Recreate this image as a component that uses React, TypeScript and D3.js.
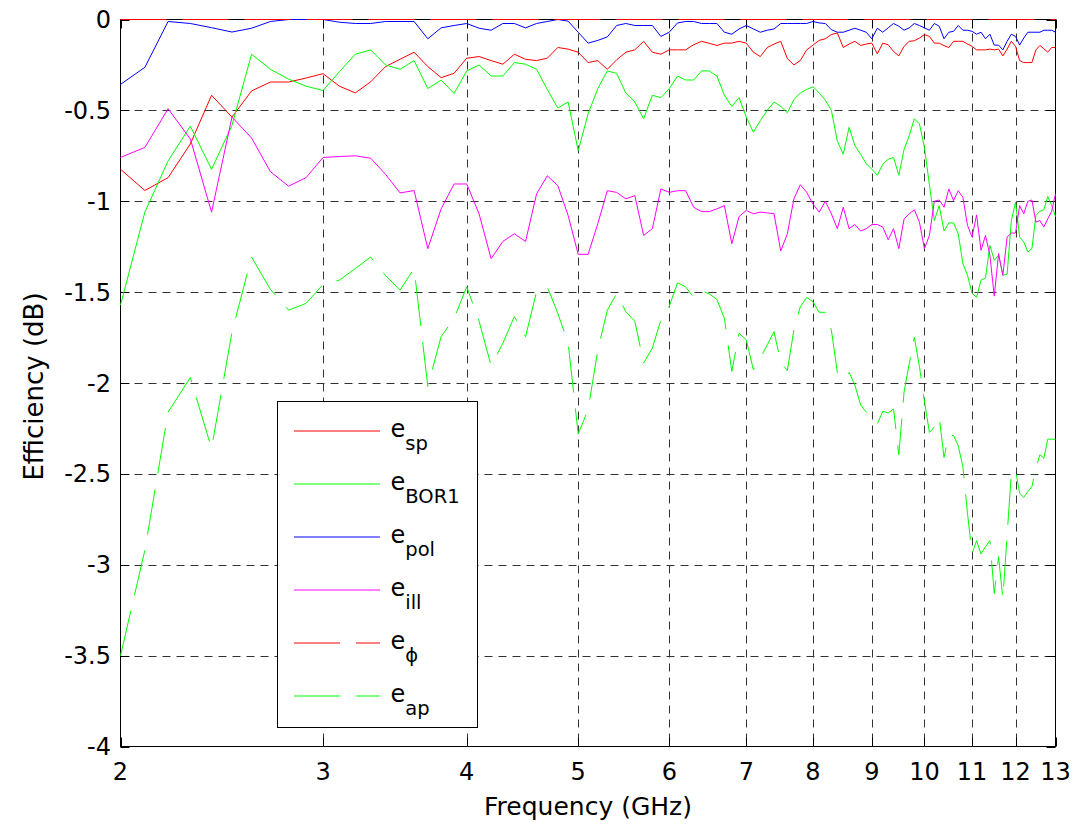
import React, { useEffect, useRef } from 'react';
import * as d3 from 'd3';

// Frequency (GHz)
const freq = [
  2.0, 2.1, 2.2, 2.3, 2.4, 2.5, 2.6, 2.7, 2.8, 2.9,
  3.0, 3.1, 3.2, 3.3, 3.4, 3.5, 3.6, 3.7, 3.8, 3.9,
  4.0, 4.1, 4.2, 4.3, 4.4, 4.5, 4.6, 4.7, 4.8, 4.9,
  5.0, 5.1, 5.2, 5.3, 5.4, 5.5, 5.6, 5.7, 5.8, 5.9,
  6.0, 6.1, 6.2, 6.3, 6.4, 6.5, 6.6, 6.7, 6.8, 6.9,
  7.0, 7.1, 7.2, 7.3, 7.4, 7.5, 7.6, 7.7, 7.8, 7.9,
  8.0, 8.1, 8.2, 8.3, 8.4, 8.5, 8.6, 8.7, 8.8, 8.9,
  9.0, 9.1, 9.2, 9.3, 9.4, 9.5, 9.6, 9.7, 9.8, 9.9,
  10.0, 10.1, 10.2, 10.3, 10.4, 10.5, 10.6, 10.7, 10.8, 10.9,
  11.0, 11.1, 11.2, 11.3, 11.4, 11.5, 11.6, 11.7, 11.8, 11.9,
  12.0, 12.1, 12.2, 12.3, 12.4, 12.5, 12.6, 12.7, 12.8, 12.9,
  13.0,
];

const eSp = [
  -0.824, -0.941, -0.870, -0.685, -0.417, -0.537, -0.393, -0.344, -0.344, -0.322,
  -0.298, -0.367, -0.404, -0.343, -0.259, -0.219, -0.180, -0.259, -0.320, -0.296,
  -0.213, -0.204, -0.226, -0.246, -0.191, -0.219, -0.226, -0.213, -0.154, -0.163,
  -0.180, -0.237, -0.226, -0.274, -0.222, -0.180, -0.167, -0.120, -0.180, -0.191,
  -0.167, -0.167, -0.167, -0.139, -0.120, -0.131, -0.143, -0.130, -0.130, -0.120,
  -0.130, -0.180, -0.204, -0.154, -0.135, -0.120, -0.215, -0.250, -0.226, -0.167,
  -0.141, -0.115, -0.106, -0.083, -0.074, -0.154, -0.135, -0.120, -0.143, -0.135,
  -0.130, -0.189, -0.130, -0.139, -0.176, -0.200, -0.148, -0.120, -0.117, -0.102,
  -0.083, -0.093, -0.130, -0.130, -0.144, -0.154, -0.120, -0.120, -0.120, -0.135,
  -0.148, -0.167, -0.167, -0.167, -0.163, -0.167, -0.163, -0.200, -0.163, -0.120,
  -0.148, -0.226, -0.237, -0.237, -0.237, -0.167, -0.143, -0.161, -0.180, -0.154,
  -0.154,
];

const eBor1 = [
  -1.571, -1.060, -0.778, -0.587, -0.824, -0.583, -0.191, -0.274, -0.328, -0.367,
  -0.391, -0.287, -0.191, -0.167, -0.250, -0.274, -0.226, -0.380, -0.333, -0.407,
  -0.283, -0.250, -0.311, -0.311, -0.237, -0.246, -0.274, -0.385, -0.487, -0.454,
  -0.722, -0.519, -0.380, -0.283, -0.296, -0.404, -0.454, -0.546, -0.417, -0.430,
  -0.380, -0.311, -0.333, -0.333, -0.283, -0.283, -0.311, -0.417, -0.478, -0.430,
  -0.537, -0.620, -0.556, -0.500, -0.454, -0.478, -0.513, -0.441, -0.404, -0.385,
  -0.370, -0.404, -0.444, -0.500, -0.670, -0.741, -0.593, -0.694, -0.741, -0.793,
  -0.824, -0.857, -0.796, -0.769, -0.759, -0.857, -0.715, -0.639, -0.546, -0.574,
  -0.704, -0.910, -1.106, -1.024, -1.164, -1.119, -1.119, -1.179, -1.343, -1.407,
  -1.507, -1.529, -1.434, -1.422, -1.243, -1.325, -1.297, -1.407, -1.401, -1.106,
  -1.005, -1.197, -1.224, -1.279, -1.261, -1.078, -1.055, -1.047, -0.974, -1.024,
  -1.084,
];

const ePol = [
  -0.357, -0.263, -0.011, -0.022, -0.045, -0.069, -0.048, -0.011, 0.0, 0.0,
  0.0, -0.015, -0.022, -0.022, -0.011, -0.011, -0.011, -0.106, -0.046, -0.033,
  -0.022, -0.048, -0.059, -0.022, -0.022, -0.046, -0.022, -0.011, 0.0, -0.009,
  -0.070, -0.130, -0.115, -0.096, -0.033, -0.022, -0.033, -0.033, -0.033, -0.093,
  -0.070, -0.019, -0.011, -0.011, -0.022, -0.022, -0.022, -0.070, -0.081, -0.052,
  -0.033, -0.052, -0.070, -0.059, -0.052, -0.022, -0.022, -0.022, -0.022, -0.022,
  -0.011, -0.019, -0.022, -0.056, -0.070, -0.070, -0.059, -0.048, -0.059, -0.070,
  -0.106, -0.048, -0.070, -0.046, -0.022, -0.037, -0.059, -0.046, -0.022, -0.033,
  -0.046, -0.059, -0.022, -0.037, -0.106, -0.070, -0.065, -0.033, -0.059, -0.059,
  -0.065, -0.081, -0.070, -0.106, -0.081, -0.141, -0.141, -0.167, -0.120, -0.081,
  -0.093, -0.141, -0.102, -0.070, -0.070, -0.070, -0.070, -0.059, -0.059, -0.059,
  -0.070,
];

const eIll = [
  -0.759, -0.704, -0.491, -0.657, -1.060, -0.537, -0.652, -0.837, -0.917, -0.870,
  -0.759, -0.754, -0.750, -0.763, -0.852, -0.954, -0.941, -1.261, -1.042, -0.905,
  -0.905, -1.069, -1.316, -1.221, -1.179, -1.221, -0.960, -0.860, -0.914, -1.078,
  -1.292, -1.292, -1.124, -0.942, -0.951, -0.987, -0.969, -1.188, -1.151, -0.932,
  -0.951, -0.942, -0.942, -1.033, -1.057, -1.057, -1.042, -1.024, -1.234, -1.084,
  -1.051, -1.069, -1.060, -1.064, -1.069, -1.274, -1.179, -0.987, -0.909, -0.951,
  -1.015, -1.060, -1.000, -1.069, -1.151, -1.033, -1.151, -1.128, -1.164, -1.151,
  -1.128, -1.128, -1.142, -1.212, -1.151, -1.261, -1.097, -1.069, -1.047, -1.115,
  -1.261, -1.188, -1.000, -0.993, -1.033, -0.932, -0.996, -0.942, -0.978, -1.133,
  -1.197, -1.075, -1.270, -1.188, -1.297, -1.522, -1.288, -1.407, -1.197, -1.175,
  -1.175, -1.024, -1.069, -1.000, -0.993, -1.115, -1.106, -1.142, -1.097, -1.055,
  -0.960,
];

const ePhi = [
  0, 0, 0, 0, 0, 0, 0, 0, 0, 0,
  0, 0, 0, 0, 0, 0, 0, 0, 0, 0,
  0, 0, 0, 0, 0, 0, 0, 0, 0, 0,
  0, 0, 0, 0, 0, 0, 0, 0, 0, 0,
  0, 0, 0, 0, 0, 0, 0, 0, 0, 0,
  0, 0, 0, 0, 0, 0, 0, 0, 0, 0,
  0, 0, 0, 0, 0, 0, 0, 0, 0, 0,
  0, 0, 0, 0, 0, 0, 0, 0, 0, 0,
  0, 0, 0, 0, 0, 0, 0, 0, 0, 0,
  0, 0, 0, 0, 0, 0, 0, 0, 0, 0,
  0, 0, 0, 0, 0, 0, 0, 0, 0, 0,
  0,
];

const eAp = [
  -3.500, -2.920, -2.160, -1.970, -2.360, -1.720, -1.307, -1.485, -1.599, -1.562,
  -1.458, -1.434, -1.370, -1.307, -1.409, -1.489, -1.370, -2.018, -1.745, -1.644,
  -1.471, -1.660, -1.905, -1.781, -1.635, -1.745, -1.498, -1.471, -1.617, -1.780,
  -2.280, -2.146, -1.820, -1.600, -1.507, -1.608, -1.660, -1.890, -1.808, -1.653,
  -1.577, -1.449, -1.471, -1.529, -1.493, -1.510, -1.540, -1.644, -1.936, -1.726,
  -1.763, -1.927, -1.863, -1.790, -1.717, -1.887, -1.931, -1.708, -1.580, -1.529,
  -1.553, -1.611, -1.611, -1.708, -1.942, -1.982, -1.942, -2.011, -2.120, -2.160,
  -2.200, -2.224, -2.156, -2.165, -2.143, -2.395, -2.050, -1.894, -1.748, -1.909,
  -2.100, -2.272, -2.243, -2.188, -2.410, -2.285, -2.290, -2.346, -2.460, -2.717,
  -2.941, -2.868, -2.941, -2.900, -2.868, -3.158, -2.956, -3.186, -2.836, -2.496,
  -2.478, -2.607, -2.629, -2.597, -2.570, -2.469, -2.395, -2.414, -2.309, -2.309,
  -2.310,
];

const xTickValues = [2, 3, 4, 5, 6, 7, 8, 9, 10, 11, 12, 13];
const yTickValues = [0, -0.5, -1, -1.5, -2, -2.5, -3, -3.5, -4];

const seriesNames = ['sp', 'BOR1', 'pol', 'ill', 'ϕ', 'ap'];
const seriesData = [eSp, eBor1, ePol, eIll, ePhi, eAp];
const seriesColors = ['#ff0000', '#00ff00', '#0000ff', '#ff00ff', '#ff0000', '#00ff00'];
const seriesDashed = [false, false, false, false, true, true];

const W = 1075;
const H = 826;
const FONT = '"DejaVu Sans", "Liberation Sans", Arial, sans-serif';

export default function App() {
  const ref = useRef<SVGSVGElement>(null);

  useEffect(() => {
    const svg = d3.select(ref.current);
    svg.selectAll('*').remove();

    const left = 120.5, right = 1055.5, top = 19.5, bottom = 746.5;
    const x = d3.scaleLog().domain([2, 13]).range([left, right]);
    const y = d3.scaleLinear().domain([-4, 0]).range([bottom, top]);

    svg.append('rect').attr('width', W).attr('height', H).attr('fill', '#fff');

    // grid
    const grid = svg.append('g').attr('stroke', '#333').attr('stroke-width', 1)
      .attr('stroke-dasharray', '8,6').attr('fill', 'none');
    xTickValues.filter(t => t !== 2 && t !== 13).forEach(t => {
      const px = Math.round(x(t)) + 0.5;
      grid.append('line').attr('x1', px).attr('x2', px).attr('y1', top).attr('y2', bottom);
    });
    yTickValues.filter(t => t !== 0 && t !== -4).forEach(t => {
      const py = Math.round(y(t)) + 0.5;
      grid.append('line').attr('x1', left).attr('x2', right).attr('y1', py).attr('y2', py);
    });

    // axes box and ticks
    const axes = svg.append('g').attr('stroke', '#000').attr('stroke-width', 1).attr('fill', 'none');
    axes.append('rect').attr('x', left).attr('y', top).attr('width', right - left).attr('height', bottom - top);
    const tl = 9;
    xTickValues.forEach(t => {
      const px = Math.round(x(t)) + 0.5;
      axes.append('line').attr('x1', px).attr('x2', px).attr('y1', bottom).attr('y2', bottom - tl);
      axes.append('line').attr('x1', px).attr('x2', px).attr('y1', top).attr('y2', top + tl);
    });
    yTickValues.forEach(t => {
      const py = Math.round(y(t)) + 0.5;
      axes.append('line').attr('x1', left).attr('x2', left + tl).attr('y1', py).attr('y2', py);
      axes.append('line').attr('x1', right).attr('x2', right - tl).attr('y1', py).attr('y2', py);
    });

    // series
    const line = d3.line<number>()
      .x((_, i) => x(freq[i]))
      .y(d => y(d));
    const lines = svg.append('g').attr('fill', 'none');
    seriesData.forEach((data, k) => {
      const p = lines.append('path')
        .attr('d', line(data) as string)
        .attr('stroke', seriesColors[k])
        .attr('stroke-width', 1)
        .attr('stroke-linejoin', 'round');
      if (seriesDashed[k]) p.attr('stroke-dasharray', '46,16');
    });

    // tick labels
    const labels = svg.append('g').attr('font-family', FONT).attr('fill', '#000');
    xTickValues.forEach(t => {
      labels.append('text').attr('x', x(t)).attr('y', 780).attr('text-anchor', 'middle')
        .attr('font-size', 24).text(String(t));
    });
    yTickValues.forEach(t => {
      labels.append('text').attr('x', 111).attr('y', y(t) + 8.5).attr('text-anchor', 'end')
        .attr('font-size', 24).text(String(t));
    });

    // axis titles
    labels.append('text').attr('x', (left + right) / 2).attr('y', 815).attr('text-anchor', 'middle')
      .attr('font-size', 25).text('Frequency (GHz)');
    labels.append('text').attr('transform', 'translate(43,386.5) rotate(-90)').attr('text-anchor', 'middle')
      .attr('font-size', 26).text('Efficiency (dB)');

    // legend
    const lg = svg.append('g');
    lg.append('rect').attr('x', 277.5).attr('y', 401.5).attr('width', 200).attr('height', 326)
      .attr('fill', '#fff').attr('stroke', '#000').attr('stroke-width', 1);
    seriesNames.forEach((name, k) => {
      const ly = 431 + k * 53;
      const l = lg.append('line').attr('x1', 294).attr('x2', 380).attr('y1', ly).attr('y2', ly)
        .attr('stroke', seriesColors[k]).attr('stroke-width', 1);
      if (seriesDashed[k]) l.attr('stroke-dasharray', '46,16');
      const t = lg.append('text').attr('x', 390.5).attr('y', ly + 6).attr('font-family', FONT)
        .attr('font-size', 24).attr('fill', '#000');
      t.append('tspan').text('e');
      t.append('tspan').attr('font-size', 19.5).attr('dy', 13).text(name);
    });
  }, []);

  return (
    <svg
      ref={ref}
      width={W}
      height={H}
      style={{ position: 'absolute', left: 0, top: 0, display: 'block' }}
    />
  );
}
